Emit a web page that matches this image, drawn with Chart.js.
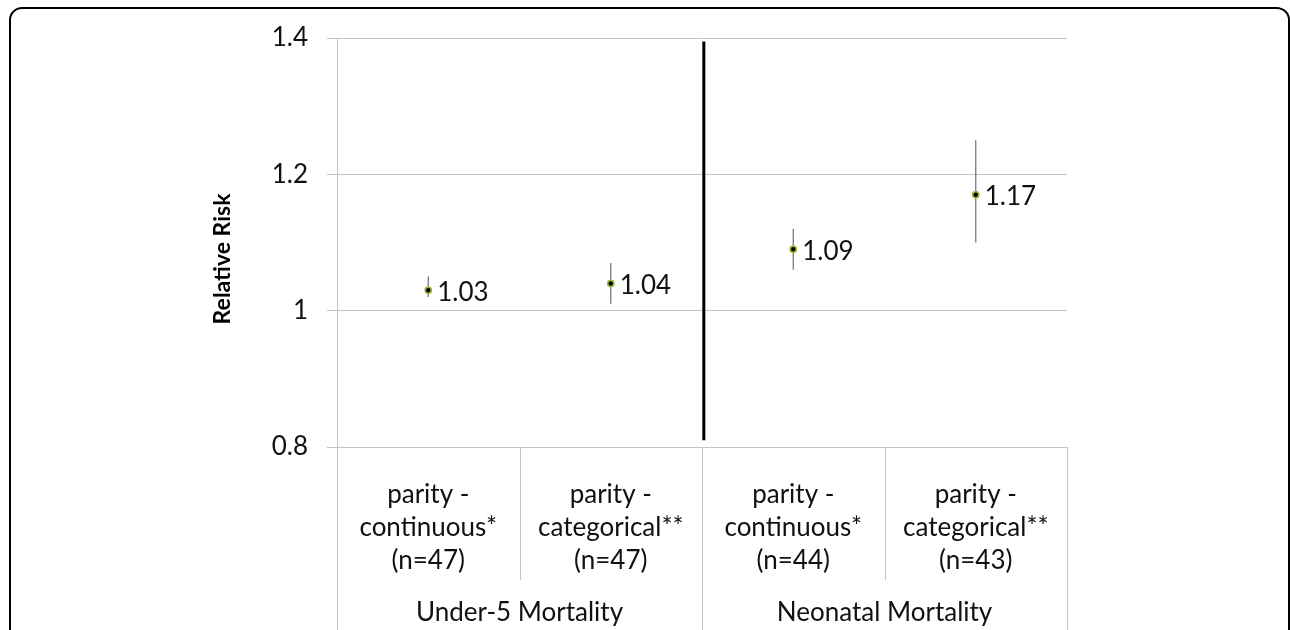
<!DOCTYPE html>
<html>
<head>
<meta charset="utf-8">
<script src="https://cdn.jsdelivr.net/npm/chart.js@4/dist/chart.umd.min.js"></script>
<style>
  html, body { margin: 0; padding: 0; background: #fff; overflow: hidden; }
  #wrap { position: relative; width: 1290px; height: 630px; }
  #frame { position: absolute; left: 9px; top: 7px; width: 1277px; height: 700px; border: 2px solid #000; border-radius: 13px; pointer-events: none; }
  canvas { position: absolute; left: 0; top: 0; }
</style>
</head>
<body>
<div id="wrap">
  <canvas id="c" width="1290" height="630"></canvas>
  <div id="frame"></div>
</div>
<script>
// ---- data ----
const categories = [
  ["parity -", "continuous*", "(n=47)"],
  ["parity -", "categorical**", "(n=47)"],
  ["parity -", "continuous*", "(n=44)"],
  ["parity -", "categorical**", "(n=43)"]
];
const groups = ["Under-5 Mortality", "Neonatal Mortality"];
const rr = [1.03, 1.04, 1.09, 1.17];
const lower = [1.02, 1.01, 1.06, 1.10];
const upper = [1.05, 1.07, 1.12, 1.25];
const yTicks = [0.8, 1, 1.2, 1.4];
const separatorX = [1.51, 1.51];
const separatorY = [0.81, 1.395];

const FONT = "Lato, 'Open Sans', sans-serif";

const pointData = rr.map((v, i) => ({ x: i, y: v }));
const sepData = separatorX.map((x, i) => ({ x: x, y: separatorY[i] }));

const extras = {
  id: 'extras',
  afterDatasetsDraw(chart) {
    const ctx = chart.ctx;
    const xs = chart.scales.x, ys = chart.scales.y;
    const ca = chart.chartArea;
    ctx.save();
    // error bars
    ctx.strokeStyle = '#6e6e6e';
    ctx.lineWidth = 1.2;
    rr.forEach((v, i) => {
      const px = xs.getPixelForValue(i);
      ctx.beginPath();
      ctx.moveTo(px, ys.getPixelForValue(lower[i]));
      ctx.lineTo(px, ys.getPixelForValue(upper[i]));
      ctx.stroke();
    });
    // redraw points on top
    rr.forEach((v, i) => {
      const px = xs.getPixelForValue(i), py = ys.getPixelForValue(v);
      ctx.beginPath();
      ctx.arc(px, py, 3, 0, Math.PI * 2);
      ctx.fillStyle = '#000';
      ctx.fill();
      ctx.lineWidth = 1.5;
      ctx.strokeStyle = '#9bbb3a';
      ctx.stroke();
    });
    // value labels
    ctx.fillStyle = '#111';
    ctx.font = '26px ' + FONT;
    ctx.textAlign = 'left';
    ctx.textBaseline = 'middle';
    rr.forEach((v, i) => {
      const px = xs.getPixelForValue(i), py = ys.getPixelForValue(v);
      ctx.fillText(v.toFixed(2), px + 9, py + 2);
    });
    // category area lines
    ctx.strokeStyle = '#c4c4c4';
    ctx.lineWidth = 1;
    const bottom = ca.bottom;
    const bounds = [-0.5, 0.5, 1.5, 2.5, 3.5];
    bounds.forEach((b, k) => {
      const px = Math.round(xs.getPixelForValue(b)) + 0.5;
      const full = (k % 2 === 0);
      ctx.beginPath();
      ctx.moveTo(px, bottom);
      ctx.lineTo(px, full ? 640 : bottom + 133);
      ctx.stroke();
    });
    // category labels
    ctx.fillStyle = '#111';
    ctx.font = '26px ' + FONT;
    ctx.textAlign = 'center';
    ctx.textBaseline = 'middle';
    categories.forEach((lines, i) => {
      const px = xs.getPixelForValue(i);
      lines.forEach((t, j) => ctx.fillText(t, px, bottom + 48 + j * 33));
    });
    groups.forEach((g, k) => {
      const px = xs.getPixelForValue(k * 2 + 0.5);
      ctx.fillText(g, px, bottom + 166);
    });
    // y title
    ctx.save();
    ctx.translate(223, 259);
    ctx.rotate(-Math.PI / 2);
    ctx.font = 'bold 23px ' + FONT;
    ctx.fillStyle = '#000';
    ctx.fillText('Relative Risk', 0, 0);
    ctx.restore();
    ctx.restore();
  }
};

new Chart(document.getElementById('c'), {
  type: 'scatter',
  data: {
    datasets: [
      {
        label: 'Relative Risk',
        data: pointData,
        pointRadius: 3,
        pointBackgroundColor: '#000',
        pointBorderColor: '#9bbb3a',
        pointBorderWidth: 1.5,
        order: 2
      },
      {
        type: 'line',
        label: 'separator',
        data: sepData,
        borderColor: '#000',
        borderWidth: 3,
        pointRadius: 0,
        fill: false,
        order: 1
      }
    ]
  },
  options: {
    responsive: false,
    animation: false,
    devicePixelRatio: 1,
    layout: { padding: { left: 0, top: 38, right: 223, bottom: 0 } },
    plugins: { legend: { display: false }, tooltip: { enabled: false } },
    scales: {
      x: {
        type: 'linear',
        min: -0.5,
        max: 3.5,
        grid: { display: false, drawTicks: false },
        border: { display: true, color: '#c4c4c4', width: 1 },
        ticks: { display: false },
        afterFit(scale) { scale.height = 630 - 447; }
      },
      y: {
        min: 0.8,
        max: 1.4,
        afterBuildTicks(scale) { scale.ticks = yTicks.map(v => ({ value: v })); },
        grid: { color: '#c4c4c4', lineWidth: 1, tickLength: 10, drawTicks: true },
        border: { display: true, color: '#c4c4c4', width: 1 },
        ticks: {
          color: '#111',
          padding: 19,
          font: { family: FONT, size: 26 },
          callback: v => String(v)
        },
        afterFit(scale) { scale.width = 337; }
      }
    }
  },
  plugins: [extras]
});
</script>
</body>
</html>
